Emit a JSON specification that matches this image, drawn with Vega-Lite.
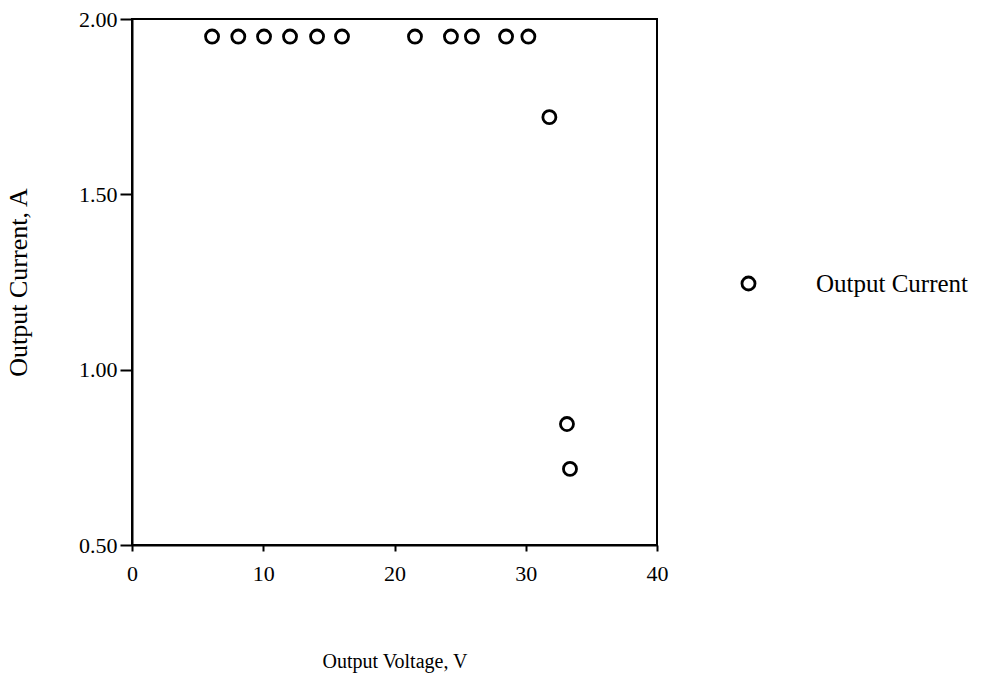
{
  "$schema": "https://vega.github.io/schema/vega-lite/v6.json",
  "autosize": "none",
  "width": 525,
  "height": 526,
  "padding": {"left": 132, "top": 19, "right": 348, "bottom": 138},
  "background": "white",
  "config": {
    "font": "Liberation Serif",
    "view": {"stroke": "black", "strokeWidth": 2},
    "axis": {
      "grid": false,
      "domainColor": "black",
      "domainWidth": 2,
      "tickColor": "black",
      "tickWidth": 2,
      "labelFlush": false,
      "labelFont": "Liberation Serif",
      "labelFontSize": 22,
      "labelColor": "black",
      "titleFont": "Liberation Serif",
      "titleFontWeight": "normal",
      "titleColor": "black"
    }
  },
  "data": {
    "values": [
      {"voltage": 6.1, "current": 1.95, "series": "Output Current"},
      {"voltage": 8.1, "current": 1.95, "series": "Output Current"},
      {"voltage": 10.06, "current": 1.95, "series": "Output Current"},
      {"voltage": 12.04, "current": 1.95, "series": "Output Current"},
      {"voltage": 14.1, "current": 1.95, "series": "Output Current"},
      {"voltage": 16.0, "current": 1.95, "series": "Output Current"},
      {"voltage": 21.56, "current": 1.95, "series": "Output Current"},
      {"voltage": 24.3, "current": 1.95, "series": "Output Current"},
      {"voltage": 25.9, "current": 1.95, "series": "Output Current"},
      {"voltage": 28.5, "current": 1.95, "series": "Output Current"},
      {"voltage": 30.2, "current": 1.95, "series": "Output Current"},
      {"voltage": 31.8, "current": 1.72, "series": "Output Current"},
      {"voltage": 33.14, "current": 0.845, "series": "Output Current"},
      {"voltage": 33.37, "current": 0.717, "series": "Output Current"}
    ]
  },
  "mark": {"type": "point", "filled": false, "stroke": "black", "strokeWidth": 2.8, "size": 170, "opacity": 1},
  "encoding": {
    "x": {
      "field": "voltage",
      "type": "quantitative",
      "scale": {"domain": [0, 40], "nice": false, "zero": false},
      "axis": {"values": [0, 10, 20, 30, 40], "title": "Output Voltage, V", "titleFontSize": 20, "titlePadding": 67, "tickSize": 6, "labelPadding": 12}
    },
    "y": {
      "field": "current",
      "type": "quantitative",
      "scale": {"domain": [0.5, 2.0], "nice": false, "zero": false},
      "axis": {"values": [0.5, 1.0, 1.5, 2.0], "format": ".2f", "title": "Output Current, A", "titleFontSize": 26, "titlePadding": 47, "tickSize": 12, "labelPadding": 3}
    },
    "shape": {
      "field": "series",
      "type": "nominal",
      "scale": {"range": ["circle"]},
      "legend": {
        "title": null,
        "orient": "none",
        "legendX": 604,
        "legendY": 252,
        "symbolType": "circle",
        "symbolSize": 170,
        "symbolStrokeWidth": 2.8,
        "symbolStrokeColor": "black",
        "symbolFillColor": "transparent",
        "labelFont": "Liberation Serif",
        "labelFontSize": 25,
        "labelColor": "black",
        "labelOffset": 55
      }
    }
  }
}
